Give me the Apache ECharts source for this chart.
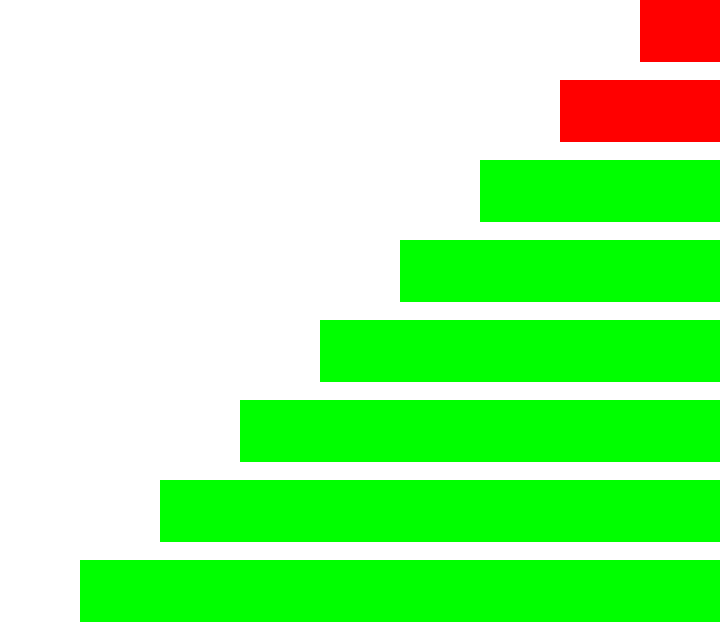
<!DOCTYPE html>
<html>
<head>
<meta charset="utf-8">
<script src="https://cdn.jsdelivr.net/npm/echarts@6/dist/echarts.min.js"></script>
<style>html,body{margin:0;padding:0;background:#fff;overflow:hidden;width:720px;height:622px;}#c{position:absolute;left:0;top:-9px;width:720px;height:640px;}</style>
</head>
<body>
<div id="c"></div>
<script>
const categories = ['A','B','C','D','E','F','G','H'];
const values = [80, 160, 240, 320, 400, 480, 560, 640];
const colors = ['#ff0000','#ff0000','#00ff00','#00ff00','#00ff00','#00ff00','#00ff00','#00ff00'];

const chart = echarts.init(document.getElementById('c'), null, {renderer:'canvas'});
chart.setOption({
  animation: false,
  backgroundColor: '#ffffff',
  grid: { left: 0, right: 0, top: 0, bottom: 0, containLabel: false },
  xAxis: { type: 'value', min: 0, max: 720, inverse: true, show: false },
  yAxis: { type: 'category', data: categories, inverse: true, show: false },
  series: [{
    type: 'bar',
    barWidth: 62,
    data: values.map((v, i) => ({ value: v, itemStyle: { color: colors[i] } }))
  }]
});
</script>
</body>
</html>
